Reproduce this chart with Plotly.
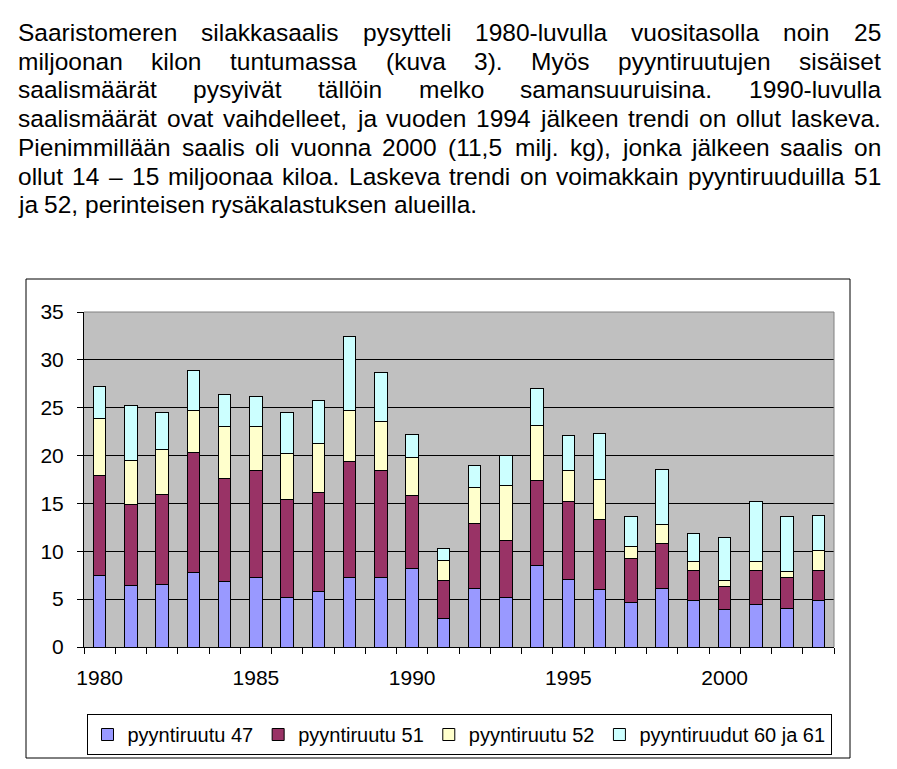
import plotly.graph_objects as go

# ---------------- data ----------------
years = list(range(1980, 2004))
ruutu47 = [7.5, 6.4, 6.5, 7.8, 6.8, 7.3, 5.2, 5.75, 7.3, 7.3, 8.15, 3.0,
           6.15, 5.2, 8.55, 7.1, 6.05, 4.7, 6.15, 4.9, 3.95, 4.4, 4.05, 4.9]
ruutu51 = [10.45, 8.45, 9.4, 12.55, 10.85, 11.1, 10.25, 10.35, 12.1, 11.1, 7.65, 3.95,
           6.8, 5.95, 8.8, 8.15, 7.3, 4.5, 4.7, 3.05, 2.4, 3.55, 3.25, 3.05]
ruutu52 = [5.95, 4.6, 4.7, 4.4, 5.35, 4.6, 4.8, 5.2, 5.35, 5.2, 3.95, 2.1,
           3.75, 5.75, 5.75, 3.15, 4.2, 1.25, 1.9, 0.95, 0.6, 0.95, 0.6, 2.1]
ruutu6061 = [3.35, 5.75, 3.85, 4.1, 3.35, 3.15, 4.3, 4.5, 7.65, 5.1, 2.4, 1.25,
             2.3, 3.15, 3.95, 3.65, 4.8, 3.15, 5.75, 2.95, 4.5, 6.25, 5.75, 3.65]
series_names = ["pyyntiruutu 47", "pyyntiruutu 51", "pyyntiruutu 52", "pyyntiruudut 60 ja 61"]
series_colors = ["#9999FF", "#993366", "#FFFFCC", "#CCFFFF"]
x_tickvals = [1980, 1985, 1990, 1995, 2000]
x_ticktext = ["1980", "1985", "1990", "1995", "2000"]
y_tickvals = [0, 5, 10, 15, 20, 25, 30, 35]

paragraph = [
    "Saaristomeren silakkasaalis pysytteli 1980-luvulla vuositasolla noin 25",
    "miljoonan kilon tuntumassa (kuva 3). Myös pyyntiruutujen sisäiset",
    "saalismäärät pysyivät tällöin melko samansuuruisina. 1990-luvulla",
    "saalismäärät ovat vaihdelleet, ja vuoden 1994 jälkeen trendi on ollut laskeva.",
    "Pienimmillään saalis oli vuonna 2000 (11,5 milj. kg), jonka jälkeen saalis on",
    "ollut 14 – 15 miljoonaa kiloa. Laskeva trendi on voimakkain pyyntiruuduilla 51",
    "ja 52, perinteisen rysäkalastuksen alueilla.",
]

# ---------------- geometry ----------------
W, H = 897, 769
L, R, T, B = 84, 63, 312, 122
PW = W - L - R
PH = H - T - B
Y0 = H - B


def px2x(px):
    return (px - L) / PW


def py2y(py):
    return (Y0 - py) / PH


FONT = "Liberation Sans, Arial, sans-serif"

fig = go.Figure()
for name, vals, col in zip(series_names, [ruutu47, ruutu51, ruutu52, ruutu6061], series_colors):
    fig.add_trace(go.Bar(
        x=years, y=vals, name=name, width=0.4,
        marker=dict(color=col, line=dict(color="black", width=1)),
    ))

fig.update_layout(
    width=W, height=H,
    margin=dict(l=L, r=R, t=T, b=B, pad=0, autoexpand=False),
    barmode="stack",
    paper_bgcolor="white",
    plot_bgcolor="#C0C0C0",
    font=dict(family=FONT, color="black", size=21),
    showlegend=True,
    legend=dict(
        orientation="h", x=0.5, xanchor="center", y=py2y(714), yanchor="top",
        bordercolor="black", borderwidth=1, bgcolor="white",
        font=dict(size=20, family=FONT, color="black"),
        traceorder="normal",
    ),
    xaxis=dict(
        range=[1979.5, 2003.5], tickvals=x_tickvals, ticktext=x_ticktext,
        ticks="", showgrid=False, zeroline=False,
        showline=True, linecolor="black", linewidth=1,
        tickfont=dict(size=21), ticklabelstandoff=12,
        minor=dict(ticks="outside", ticklen=6, tickcolor="black", tickwidth=1,
                   tick0=1979.5, dtick=1, showgrid=False),
    ),
    yaxis=dict(
        range=[0, 35], tickvals=y_tickvals, ticks="outside", ticklen=6,
        tickcolor="black", tickwidth=1,
        showgrid=True, gridcolor="black", gridwidth=1, zeroline=False,
        showline=True, linecolor="black", linewidth=1,
        tickfont=dict(size=21), ticklabelstandoff=9,
    ),
)

# plot-area top and right border (gray) and outer chart frame
fig.add_shape(type="line", xref="paper", yref="paper", x0=0, x1=1, y0=1, y1=1,
              line=dict(color="#808080", width=1), layer="above")
fig.add_shape(type="line", xref="paper", yref="paper", x0=1, x1=1, y0=0, y1=1,
              line=dict(color="#808080", width=1), layer="above")
fig.add_shape(type="rect", xref="paper", yref="paper",
              x0=px2x(26), x1=px2x(850), y0=py2y(279), y1=py2y(758),
              line=dict(color="black", width=1), layer="below")

# ---------------- justified paragraph ----------------
FS = 24.5
CW = {" ": 278, "a": 556, "b": 556, "c": 500, "d": 556, "e": 556, "f": 278, "g": 556,
      "h": 556, "i": 222, "j": 222, "k": 500, "l": 222, "m": 833, "n": 556, "o": 556,
      "p": 556, "q": 556, "r": 333, "s": 500, "t": 278, "u": 556, "v": 500, "w": 722,
      "x": 500, "y": 500, "z": 500, "ä": 556, "ö": 556, "S": 667, "M": 833, "P": 667,
      "L": 556, "(": 333, ")": 333, ".": 278, ",": 278, "-": 333, "–": 556}


def tw(s):
    return sum(CW.get(c, 556) for c in s) * FS / 1000.0


XL, XR = 18, 881
base0, lstep = 41, 28.7
for i, line in enumerate(paragraph):
    words = line.split(" ")
    justify = i < len(paragraph) - 1
    if justify:
        gap = (XR - XL - sum(tw(w) for w in words)) / (len(words) - 1)
    else:
        gap = tw(" ")
    xpos = XL
    baseline = base0 + i * lstep
    for w in words:
        fig.add_annotation(
            x=px2x(xpos), y=py2y(baseline - 8.5), xref="paper", yref="paper",
            xanchor="left", yanchor="middle", text=w, showarrow=False,
            borderpad=0, borderwidth=0,
            font=dict(size=FS, family=FONT, color="black"),
        )
        xpos += tw(w) + gap

fig.write_html("out.html")
